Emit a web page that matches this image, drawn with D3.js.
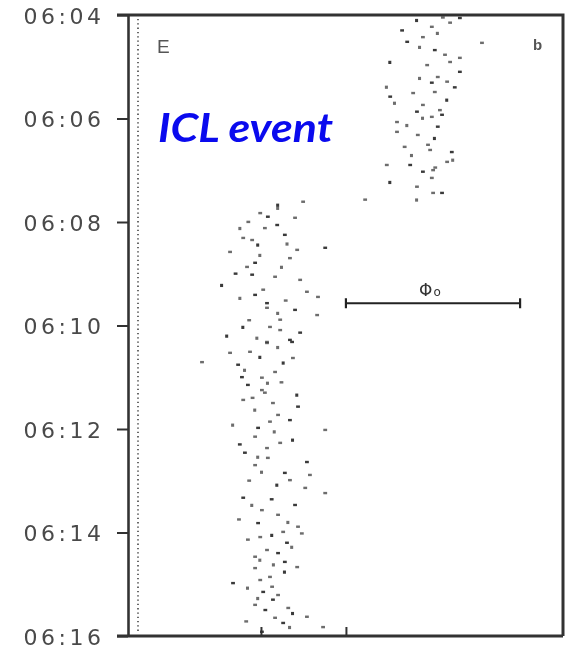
<!DOCTYPE html>
<html>
<head>
<meta charset="utf-8">
<script src="https://cdn.jsdelivr.net/npm/d3@7"></script>
<style>
  body { margin: 0; background: #ffffff; }
  svg { display: block; }
</style>
</head>
<body>
<svg id="my-plot-svg"></svg>
<script>
'use strict';

//------------------------------------------------------------
// data
// x: relative position (arbitrary units), t: minutes after 06:00 UT
//------------------------------------------------------------
const yTickMinutes = [4, 6, 8, 10, 12, 14, 16];
const xTickValues = [30, 50];

// upper (earlier) cluster
const upperPoints = [
    [66.7, 4.10], [70.2, 4.23], [74.5, 4.15], [76.8, 4.06], [71.6, 4.35], [68.1, 4.43],
    [64.4, 4.52], [82.0, 4.54], [67.4, 4.62], [70.9, 4.68], [73.3, 4.77], [76.8, 4.83],
    [60.4, 4.91], [74.5, 4.91], [69.1, 4.97], [76.8, 5.10], [67.4, 5.22], [71.6, 5.20],
    [70.2, 5.31], [73.8, 5.29], [59.6, 5.39], [60.4, 5.58], [65.8, 5.51], [70.9, 5.49],
    [73.8, 5.64], [68.1, 5.74], [72.1, 5.84], [66.7, 5.87], [68.1, 5.99], [70.2, 5.97],
    [72.6, 5.93], [62.0, 6.07], [64.4, 6.13], [71.6, 6.16], [62.0, 6.26], [66.9, 6.32],
    [70.9, 6.38], [69.3, 6.51], [69.8, 6.61], [74.9, 6.65], [65.5, 6.71], [59.6, 6.90],
    [65.1, 6.90], [73.8, 6.84], [75.2, 6.80], [68.1, 7.03], [70.5, 7.00], [70.2, 7.15],
    [60.4, 7.23], [66.7, 7.32], [70.5, 7.44], [72.6, 7.44], [66.7, 7.57], [54.5, 7.57],
    [63.2, 4.30], [72.8, 4.05], [61.5, 5.70], [75.6, 5.40], [63.8, 6.55], [71.0, 6.95]
];

// lower (later) cluster
const lowerPoints = [
    [34.0, 7.67], [39.9, 7.61], [29.8, 7.83], [31.6, 7.90], [34.0, 7.73], [38.0, 7.92],
    [33.8, 8.06], [30.9, 8.12], [25.1, 8.12], [35.6, 8.25], [25.8, 8.31], [27.9, 8.35],
    [29.3, 8.44], [22.7, 8.58], [38.5, 8.54], [45.1, 8.50], [29.8, 8.64], [36.8, 8.70],
    [28.6, 8.79], [26.7, 8.87], [34.9, 8.87], [27.9, 9.02], [33.3, 9.06], [39.2, 9.12],
    [20.8, 9.22], [30.5, 9.31], [40.8, 9.35], [28.6, 9.41], [25.1, 9.47], [43.4, 9.45],
    [31.4, 9.57], [31.4, 9.66], [34.0, 9.76], [38.0, 9.70], [43.2, 9.80], [34.5, 9.89],
    [25.8, 10.03], [32.1, 10.03], [34.5, 10.09], [39.2, 10.14], [29.1, 10.24], [31.4, 10.32],
    [36.8, 10.28], [31.4, 10.34], [34.0, 10.42], [37.3, 10.32], [27.4, 10.51], [22.7, 10.53],
    [29.8, 10.61], [16.1, 10.71], [37.5, 10.63], [24.6, 10.76], [26.2, 10.86], [33.3, 10.90],
    [25.5, 11.00], [30.2, 11.01], [31.6, 11.11], [26.9, 11.15], [30.2, 11.25], [30.9, 11.30],
    [38.5, 11.34], [25.8, 11.44], [32.8, 11.50], [38.7, 11.57], [28.6, 11.63], [34.0, 11.73],
    [36.8, 11.83], [32.1, 11.86], [23.4, 11.92], [29.3, 11.98], [45.1, 12.02], [28.6, 12.15],
    [37.5, 12.21], [34.5, 12.27], [31.4, 12.37], [26.2, 12.46], [29.3, 12.54], [31.6, 12.56],
    [40.8, 12.64], [28.6, 12.70], [30.2, 12.83], [35.6, 12.85], [41.5, 12.89], [36.8, 12.99],
    [33.8, 13.08], [40.4, 13.14], [45.1, 13.24], [25.8, 13.33], [27.9, 13.47], [30.2, 13.57],
    [38.0, 13.47], [34.0, 13.66], [36.4, 13.80], [29.3, 13.82], [38.7, 13.89], [35.2, 13.99],
    [32.6, 14.05], [29.8, 14.09], [26.9, 14.14], [36.1, 14.20], [37.3, 14.28], [31.4, 14.34],
    [34.0, 14.40], [28.6, 14.47], [29.8, 14.53], [35.6, 14.57], [38.5, 14.67], [28.6, 14.69],
    [35.6, 14.76], [32.1, 14.86], [29.8, 14.92], [23.4, 14.98], [26.9, 15.07], [32.6, 15.05],
    [30.5, 15.15], [34.0, 15.21], [29.3, 15.27], [32.8, 15.30], [28.6, 15.40], [36.4, 15.46],
    [37.5, 15.56], [40.8, 15.63], [33.3, 15.65], [35.2, 15.75], [36.8, 15.83], [44.6, 15.83],
    [30.2, 15.92],
    [27.0, 8.00], [36.2, 8.42], [24.0, 9.00], [35.8, 9.52], [27.2, 9.90], [35.3, 10.72],
    [28.0, 11.40], [34.8, 11.10], [25.0, 12.30], [33.2, 12.05], [27.2, 13.00], [32.5, 13.36],
    [24.8, 13.75], [33.0, 14.62], [31.0, 15.50], [26.5, 15.72], [39.6, 14.02], [22.0, 10.20]
];

// phi_0 scale bar
const phiBarX = [50, 91];
const phiBarT = 9.57;

//------------------------------------------------------------
// plot
//------------------------------------------------------------
window.addEventListener("load", () => {

const width = 567;
const height = 650;
const margin = {top: 15, right: 4, bottom: 14, left: 128};

const svg = d3.select("#my-plot-svg")
    .attr("width", width)
    .attr("height", height);

// slight blur to imitate the scanned print
svg.append("defs").append("filter")
    .attr("id", "scan-blur")
    .append("feGaussianBlur")
    .attr("stdDeviation", 0.45);

const xScale = d3.scaleLinear()
    .domain([-1.3, 101.1])
    .range([margin.left, width - margin.right]);

const yScale = d3.scaleLinear()
    .domain([4, 16])
    .range([margin.top, height - margin.bottom]);

const plot = svg.append("g").attr("filter", "url(#scan-blur)");

// frame (top and right sides)
plot.append("path")
    .attr("d", `M${margin.left - 11},${yScale(4)} H${xScale.range()[1]} V${yScale(16)}`)
    .attr("fill", "none")
    .attr("stroke", "#333")
    .attr("stroke-width", 3);

// dotted line just inside the left axis
plot.append("line")
    .attr("x1", margin.left + 10).attr("x2", margin.left + 10)
    .attr("y1", yScale(4) + 4).attr("y2", yScale(16) - 4)
    .attr("stroke", "#444")
    .attr("stroke-width", 1.6)
    .attr("stroke-dasharray", "1.3,3");

// left time axis
const yAxis = d3.axisLeft(yScale)
    .tickValues(yTickMinutes)
    .tickSize(11)
    .tickSizeOuter(0)
    .tickPadding(12.5)
    .tickFormat((d) => `06:${String(d).padStart(2, "0")}`);

const yAxisG = plot.append("g")
    .attr("transform", `translate(${margin.left},0)`)
    .call(yAxis);

yAxisG.select(".domain").attr("stroke", "#333").attr("stroke-width", 2.6);
yAxisG.selectAll(".tick line").attr("stroke", "#333").attr("stroke-width", 2);
yAxisG.selectAll(".tick text")
    .attr("font-family", "'DejaVu Sans', sans-serif")
    .attr("font-size", 22)
    .attr("letter-spacing", 3.5)
    .attr("dy", "0.38em")
    .attr("fill", "#4a4a4a");

// bottom axis: ticks pointing inward, no labels
const xAxis = d3.axisBottom(xScale)
    .tickValues(xTickValues)
    .tickSize(-9)
    .tickSizeOuter(0)
    .tickFormat("");

const xAxisG = plot.append("g")
    .attr("transform", `translate(0,${yScale(16)})`)
    .call(xAxis);

xAxisG.select(".domain")
    .attr("d", `M${margin.left - 11},0 H${xScale.range()[1]}`)
    .attr("stroke", "#333").attr("stroke-width", 3);
xAxisG.selectAll(".tick line").attr("stroke", "#333").attr("stroke-width", 2);

// scatter points
const allPoints = upperPoints.concat(lowerPoints);
plot.append("g").selectAll("rect")
    .data(allPoints)
    .enter()
    .append("rect")
    .attr("x", (d) => xScale(d[0]) - 1.8)
    .attr("y", (d) => yScale(d[1]) - 1.3)
    .attr("width", (d, i) => (i % 4 === 0 ? 3 : 3.8))
    .attr("height", (d, i) => (i % 4 === 0 ? 3.2 : 2.4))
    .attr("fill", "#2e2e2e")
    .attr("opacity", (d, i) => (i % 3 === 0 ? 0.95 : 0.7));

// phi_0 bar
const phiG = plot.append("g").attr("stroke", "#222").attr("stroke-width", 2.2);
phiG.append("line")
    .attr("x1", xScale(phiBarX[0])).attr("x2", xScale(phiBarX[1]))
    .attr("y1", yScale(phiBarT)).attr("y2", yScale(phiBarT));
phiBarX.forEach((v) => {
    phiG.append("line")
        .attr("x1", xScale(v)).attr("x2", xScale(v))
        .attr("y1", yScale(phiBarT) - 5).attr("y2", yScale(phiBarT) + 5);
});

const phiText = plot.append("text")
    .attr("x", (xScale(phiBarX[0]) + xScale(phiBarX[1])) / 2 - 14)
    .attr("y", yScale(phiBarT) - 7)
    .attr("font-family", "'DejaVu Sans', sans-serif")
    .attr("font-size", 17)
    .attr("fill", "#333");
phiText.append("tspan").text("Φ");
phiText.append("tspan").attr("font-size", 12).attr("dx", 1).text("o");

// panel letters
plot.append("text")
    .attr("x", 157).attr("y", 53)
    .attr("font-family", "'Liberation Sans', Arial, sans-serif")
    .attr("font-size", 19)
    .attr("fill", "#555")
    .text("E");

plot.append("text")
    .attr("x", 533).attr("y", 50)
    .attr("font-family", "'Liberation Sans', Arial, sans-serif")
    .attr("font-weight", "bold")
    .attr("font-size", 15)
    .attr("fill", "#555")
    .text("b");

// overlay title
svg.append("text")
    .attr("x", 158).attr("y", 142)
    .attr("font-family", "Lato, 'Open Sans', sans-serif")
    .attr("font-style", "italic")
    .attr("font-weight", "bold")
    .attr("font-size", 40)
    .attr("textLength", 175)
    .attr("lengthAdjust", "spacingAndGlyphs")
    .attr("fill", "#0a0aee")
    .text("ICL event");

});
</script>
</body>
</html>
